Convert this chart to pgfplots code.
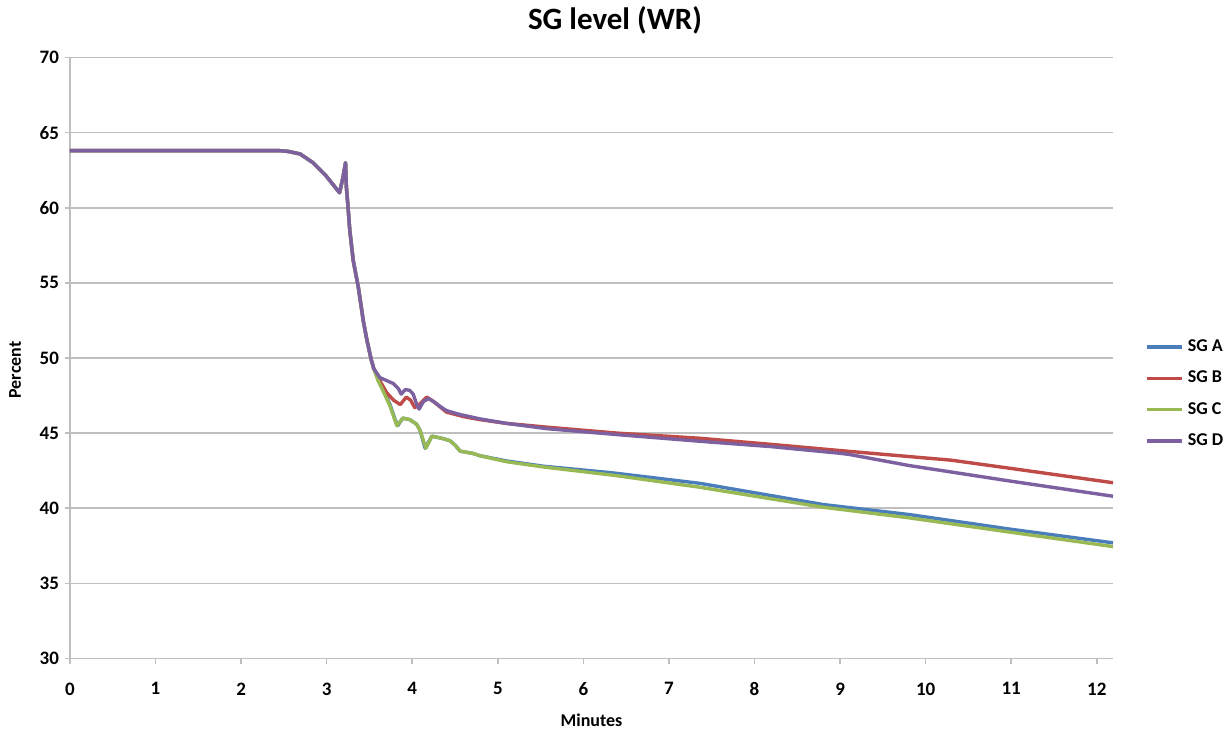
\documentclass[border=0pt]{standalone}
\usepackage{fontspec}
\setmainfont{Carlito}
\usepackage{pgfplots}
\pgfplotsset{compat=1.18}

\definecolor{sga}{HTML}{4A7EBB}
\definecolor{sgb}{HTML}{BE4B48}
\definecolor{sgc}{HTML}{98B954}
\definecolor{sgd}{HTML}{7D60A0}
\definecolor{gridgray}{HTML}{BFBFBF}

\begin{document}
\begin{tikzpicture}
\begin{axis}[
    name=ax,
    scale only axis,
    width=521.5pt,
    height=300.5pt,
    xmin=0, xmax=12.19,
    ymin=30, ymax=70,
    xtick={0,1,...,12},
    ytick={30,35,...,70},
    axis x line*=bottom,
    axis y line*=left,
    axis line style={-, gridgray, line width=0.8pt},
    ymajorgrids,
    grid style={gridgray, line width=0.8pt},
    tick style={gridgray, line width=0.8pt},
    tick align=outside,
    major tick length=2.5pt,
    /pgf/number format/assume math mode=true,
    tick label style={font=\bfseries\fontsize{9.5}{11}\selectfont},
    xticklabel style={yshift=-6pt},
    yticklabel style={xshift=0.5pt},
    title={SG level (WR)},
    title style={at={(axis description cs:0.5,1)}, anchor=center,
      xshift=11.75pt, yshift=12.5pt,
      font=\bfseries\fontsize{15.5}{18}\selectfont},
    xlabel={Minutes},
    xlabel style={at={(axis description cs:0.5,0)}, anchor=center,
      yshift=-31pt, font=\bfseries\fontsize{9}{11}\selectfont},
    legend style={at={(axis description cs:1,0.44)}, anchor=west,
      xshift=15pt, draw=none, fill=none, inner sep=1pt,
      font=\bfseries\fontsize{9}{11}\selectfont, row sep=4.3pt},
    legend cell align=left,
    legend image code/.code={
      \draw[#1] (0pt,0pt) -- (17.5pt,0pt);
    },
    every axis plot/.append style={line width=1.7pt, line join=round},
]

\addplot[sga, mark=none] coordinates {
  (0,63.8) (2.45,63.8) (2.55,63.75) (2.69,63.58) (2.84,63.0) (2.99,62.14)
  (3.15,61.0) (3.19,62.0) (3.22,63.0) (3.23,61.4) (3.25,60.0) (3.27,58.5)
  (3.31,56.5) (3.37,54.7) (3.43,52.4) (3.47,51.2) (3.52,49.9) (3.55,49.3)
  (3.60,48.6) (3.66,47.9) (3.74,46.9) (3.80,45.9) (3.83,45.5) (3.89,46.0)
  (3.97,45.9) (4.05,45.6) (4.09,45.2) (4.15,44.0) (4.23,44.8) (4.35,44.65)
  (4.44,44.5) (4.50,44.2) (4.56,43.8) (4.71,43.65) (4.79,43.5) (5.1,43.15)
  (5.53,42.8) (6.35,42.35) (7.36,41.66) (8.8,40.25) (9.81,39.58) (11,38.6)
  (12.19,37.7)
};
\addlegendentry{SG A}

\addplot[sgb, mark=none] coordinates {
  (0,63.8) (2.45,63.8) (2.55,63.75) (2.69,63.58) (2.84,63.0) (2.99,62.14)
  (3.15,61.0) (3.19,62.0) (3.22,63.0) (3.23,61.4) (3.25,60.0) (3.27,58.5)
  (3.31,56.5) (3.37,54.7) (3.43,52.4) (3.47,51.2) (3.52,49.9) (3.55,49.3)
  (3.62,48.5) (3.70,47.7) (3.78,47.2) (3.86,46.9) (3.93,47.4) (3.98,47.2)
  (4.03,46.7) (4.08,46.9) (4.17,47.4) (4.25,47.1) (4.40,46.4) (4.6,46.1)
  (4.79,45.9) (5.1,45.65) (5.57,45.4) (6.4,45.0) (7.36,44.66) (8.2,44.25)
  (9.0,43.84) (9.81,43.44) (10.3,43.2) (11,42.65) (12.19,41.7)
};
\addlegendentry{SG B}

\addplot[sgc, mark=none] coordinates {
  (0,63.8) (2.45,63.8) (2.55,63.75) (2.69,63.58) (2.84,63.0) (2.99,62.14)
  (3.15,61.0) (3.19,62.0) (3.22,63.0) (3.23,61.4) (3.25,60.0) (3.27,58.5)
  (3.31,56.5) (3.37,54.7) (3.43,52.4) (3.47,51.2) (3.52,49.9) (3.55,49.3)
  (3.60,48.5) (3.66,47.8) (3.74,46.8) (3.82,45.5) (3.89,46.0) (3.97,45.9)
  (4.05,45.6) (4.09,45.2) (4.16,44.0) (4.23,44.8) (4.35,44.65) (4.44,44.5)
  (4.50,44.2) (4.56,43.8) (4.71,43.65) (4.79,43.5) (5.1,43.1) (5.53,42.75)
  (6.35,42.2) (7.36,41.4) (8.8,40.07) (9.81,39.36) (11,38.4) (12.19,37.45)
};
\addlegendentry{SG C}

\addplot[sgd, mark=none] coordinates {
  (0,63.8) (2.45,63.8) (2.55,63.75) (2.69,63.58) (2.84,63.0) (2.99,62.14)
  (3.15,61.0) (3.19,62.0) (3.22,63.0) (3.23,61.4) (3.25,60.0) (3.27,58.5)
  (3.31,56.5) (3.37,54.7) (3.43,52.4) (3.47,51.2) (3.52,49.9) (3.55,49.3)
  (3.62,48.7) (3.70,48.5) (3.78,48.3) (3.84,47.95) (3.87,47.6) (3.92,47.9)
  (3.97,47.85) (4.01,47.6) (4.06,46.8) (4.08,46.6) (4.13,47.1) (4.19,47.3)
  (4.25,47.1) (4.32,46.8) (4.40,46.5) (4.55,46.25) (4.79,45.95) (5.1,45.65)
  (5.57,45.3) (6.4,44.9) (7.36,44.46) (8.2,44.1) (9.0,43.66) (9.11,43.58)
  (9.81,42.84) (11,41.8) (12.19,40.8)
};
\addlegendentry{SG D}

\end{axis}
% y axis label
\node[rotate=90, font=\bfseries\fontsize{9}{11}\selectfont]
  at ([shift={(-27.5pt,-6pt)}]ax.west) {Percent};
% fix the page to the reference's margins round the plot area
\path ([shift={(-35pt,-37pt)}]ax.south west)
  rectangle ([shift={(58.5pt,28.5pt)}]ax.north east);
\end{tikzpicture}
\end{document}
